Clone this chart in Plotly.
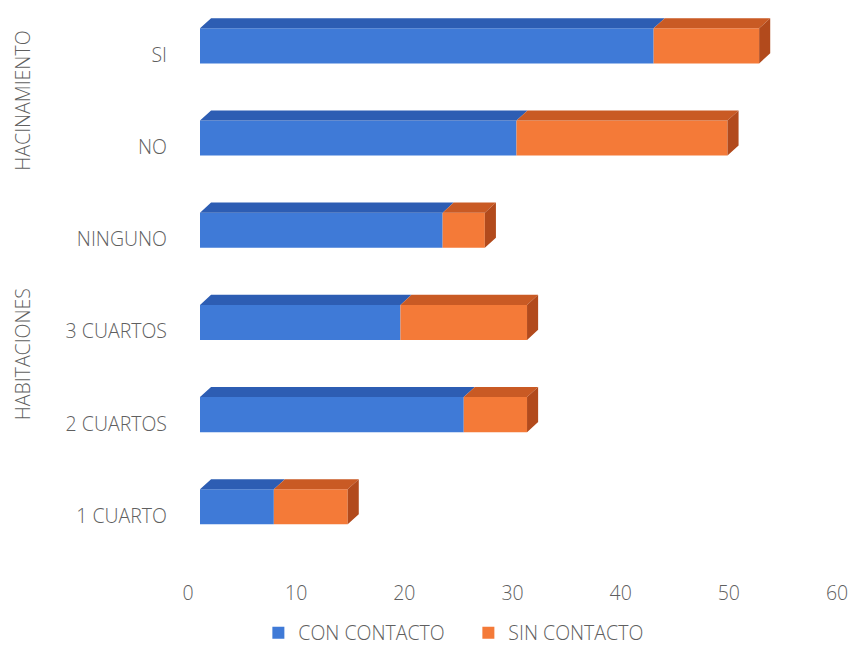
import plotly.graph_objects as go

# Categories, bottom to top
categories = ["1 CUARTO", "2 CUARTOS", "3 CUARTOS", "NINGUNO", "NO", "SI"]
con_contacto = [7, 25, 19, 23, 30, 43]
sin_contacto = [7, 6, 12, 4, 20, 10]
x_ticks = [0, 10, 20, 30, 40, 50, 60]

groups = ["HACINAMIENTO", "HABITACIONES"]
group_centers = [4.5, 1.75]

BLUE = "#3f7ad7"
BLUE_TOP = "#2d5db3"
ORANGE = "#f47a38"
ORANGE_TOP = "#c95a24"
ORANGE_SIDE = "#b24a1c"
GREY = "#5f5f5f"
FONT = "Open Sans"
FSIZE = 19.5
FWEIGHT = 300

# 3D styling of the bars (front face size and depth offset, in data units)
BAR_W = 0.38
LIFT = 0.1          # front faces sit slightly above the category label
DX = 1.05           # depth offset along x
DY = 0.11           # depth offset along y

ypos = [i + LIFT for i in range(len(categories))]
totals = [c + s for c, s in zip(con_contacto, sin_contacto)]


def top_face(x0, x1, y):
    yt = y + BAR_W / 2
    return [x0, x1, x1 + DX, x0 + DX, x0, None], [yt, yt, yt + DY, yt + DY, yt, None]


def side_face(x1, y):
    yt = y + BAR_W / 2
    yb = y - BAR_W / 2
    return [x1, x1, x1 + DX, x1 + DX, x1, None], [yb, yt, yt + DY, yb + DY, yb, None]


bx, by, ox, oy, sx, sy = [], [], [], [], [], []
for c, t, y in zip(con_contacto, totals, ypos):
    px, py = top_face(0, c, y)
    bx += px; by += py
    px, py = top_face(c, t, y)
    ox += px; oy += py
    px, py = side_face(t, y)
    sx += px; sy += py

font = dict(family=FONT, size=FSIZE, color=GREY, weight=FWEIGHT)

fig = go.Figure()

# Invisible anchor trace so the labelled value axis (floor scale) is rendered
fig.add_trace(go.Scatter(
    x=x_ticks, y=[0] * len(x_ticks), mode="markers", marker=dict(opacity=0),
    showlegend=False, hoverinfo="skip", xaxis="x",
))

fig.add_trace(go.Bar(
    name="CON CONTACTO", orientation="h", x=con_contacto, y=ypos, width=BAR_W,
    marker=dict(color=BLUE, line=dict(width=0)), xaxis="x2",
))
fig.add_trace(go.Bar(
    name="SIN CONTACTO", orientation="h", x=sin_contacto, base=con_contacto, y=ypos,
    width=BAR_W, marker=dict(color=ORANGE, line=dict(width=0)), xaxis="x2",
))
for xs, ys, col in [(bx, by, BLUE_TOP), (ox, oy, ORANGE_TOP), (sx, sy, ORANGE_SIDE)]:
    fig.add_trace(go.Scatter(
        x=xs, y=ys, mode="lines", fill="toself", fillcolor=col,
        line=dict(width=0, color=col), showlegend=False, hoverinfo="skip", xaxis="x2",
    ))

for g, yc in zip(groups, group_centers):
    fig.add_annotation(
        text=g, x=-0.255, xref="paper", y=yc, yref="y", textangle=-90,
        showarrow=False, xanchor="center", yanchor="middle", font=font,
    )

fig.update_layout(
    width=851, height=656,
    margin=dict(l=188, r=14, t=9, b=77, autoexpand=False),
    paper_bgcolor="white", plot_bgcolor="white",
    barmode="overlay",
    font=font,
    showlegend=True,
    legend=dict(
        orientation="h", x=0.432, xanchor="center",
        yref="container", y=0.035, yanchor="middle",
        font=font, itemwidth=30, entrywidth=165, traceorder="normal",
    ),
    xaxis=dict(
        range=[0, 60], tickvals=x_ticks, ticktext=[str(v) for v in x_ticks],
        showgrid=False, zeroline=False, showline=False, ticks="",
        tickfont=font,
    ),
    xaxis2=dict(
        overlaying="x", range=[-1.137, 60.38], visible=False,
        showgrid=False, zeroline=False,
    ),
    yaxis=dict(
        range=[-0.683, 5.5], tickvals=list(range(len(categories))), ticktext=categories,
        showgrid=False, zeroline=False, showline=False, ticks="",
        ticklabelstandoff=20, tickfont=font,
    ),
)

fig.write_html("out.html")
